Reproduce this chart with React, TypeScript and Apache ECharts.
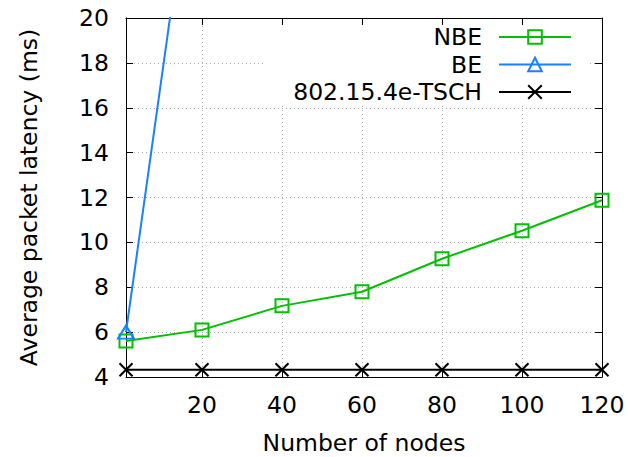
import React, { useEffect, useRef } from "react";
import * as echarts from "echarts";

const nodes = [1, 20, 40, 60, 80, 100, 120];
const nbe = [5.6, 6.1, 7.17, 7.8, 9.27, 10.52, 11.88];
const beNodes = [1, 20];
const be = [6.0, 30.2];
const tsch = [4.32, 4.32, 4.32, 4.32, 4.32, 4.32, 4.32];
const xTicks = [20, 40, 60, 80, 100, 120];
const seriesNames = ["NBE", "BE", "802.15.4e-TSCH"];

const GREEN = "#00c000";
const BLUE = "#1a80ff";
const FONT = "DejaVu Sans";

export default function App() {
  const ref = useRef<HTMLDivElement>(null);
  useEffect(() => {
    const chart = echarts.init(ref.current!, null, { renderer: "svg" });
    const gridLine = { show: true, lineStyle: { color: "#a8a8a8", type: [1, 3], width: 1 } };
    const baseX = {
      type: "value",
      min: 1,
      max: 120,
      axisLine: { show: true, onZero: false, lineStyle: { color: "#000", width: 1 } },
    };
    const baseY = {
      type: "value",
      min: 4,
      max: 20,
      interval: 2,
      axisLine: { show: true, onZero: false, lineStyle: { color: "#000", width: 1 } },
    };
    chart.setOption({
      animation: false,
      backgroundColor: "#fff",
      textStyle: { fontFamily: FONT },
      grid: { left: 126, right: 28, top: 18, bottom: 80, containLabel: false, outerBoundsMode: "none" },
      legend: {
        orient: "vertical",
        align: "right",
        right: 43,
        top: 25,
        itemWidth: 72,
        itemHeight: 17,
        itemGap: 3.5,
        padding: [0, 15, 0, 28],
        backgroundColor: "#fff",
        textStyle: { fontFamily: FONT, fontSize: 23.5, color: "#000", padding: [0, 12, 0, 0] },
        data: seriesNames,
      },
      xAxis: [
        {
          ...baseX,
          position: "bottom",
          name: "Number of nodes",
          nameLocation: "middle",
          nameGap: 54,
          nameTextStyle: { fontFamily: FONT, fontSize: 23.5, lineHeight: 24, color: "#000" },
          axisTick: { show: true, inside: true, length: 7, customValues: xTicks, lineStyle: { color: "#000" } },
          axisLabel: { show: true, customValues: xTicks, margin: 16, fontFamily: FONT, fontSize: 23.5, color: "#000" },
          splitLine: gridLine,
        },
        {
          ...baseX,
          position: "top",
          axisTick: { show: true, inside: true, length: 7, customValues: xTicks, lineStyle: { color: "#000" } },
          axisLabel: { show: false },
          splitLine: { show: false },
        },
      ],
      yAxis: [
        {
          ...baseY,
          position: "left",
          name: "Average packet latency (ms)",
          nameLocation: "middle",
          nameGap: 85,
          nameTextStyle: { fontFamily: FONT, fontSize: 23.5, color: "#000" },
          axisTick: { show: true, inside: true, length: 7, lineStyle: { color: "#000" } },
          axisLabel: { margin: 17, fontFamily: FONT, fontSize: 23.5, color: "#000" },
          splitLine: gridLine,
        },
        {
          ...baseY,
          position: "right",
          axisTick: { show: true, inside: true, length: 7, lineStyle: { color: "#000" } },
          axisLabel: { show: false },
          splitLine: { show: false },
        },
      ],
      series: [
        {
          name: "NBE",
          type: "line",
          data: nodes.map((x, i) => [x, nbe[i]]),
          symbol: "rect",
          symbolSize: 13,
          lineStyle: { color: GREEN, width: 2 },
          itemStyle: { color: "rgba(0,0,0,0)", borderColor: GREEN, borderWidth: 2 },
          clip: true,
          z: 3,
        },
        {
          name: "BE",
          type: "line",
          data: beNodes.map((x, i) => [x, be[i]]),
          symbol: "triangle",
          symbolSize: [16, 13],
          lineStyle: { color: BLUE, width: 2 },
          itemStyle: { color: "rgba(0,0,0,0)", borderColor: BLUE, borderWidth: 2 },
          clip: true,
          z: 3,
        },
        {
          name: "802.15.4e-TSCH",
          type: "line",
          data: nodes.map((x, i) => [x, tsch[i]]),
          symbol: "path://M0,0L10,10M10,0L0,10",
          symbolSize: 13,
          lineStyle: { color: "#000", width: 2 },
          itemStyle: { color: "rgba(0,0,0,0)", borderColor: "#000", borderWidth: 2 },
          clip: true,
          z: 3,
        },
      ],
    });
    return () => chart.dispose();
  }, []);
  return <div ref={ref} style={{ width: 630, height: 457, position: "absolute", left: 0, top: 0 }} />;
}
